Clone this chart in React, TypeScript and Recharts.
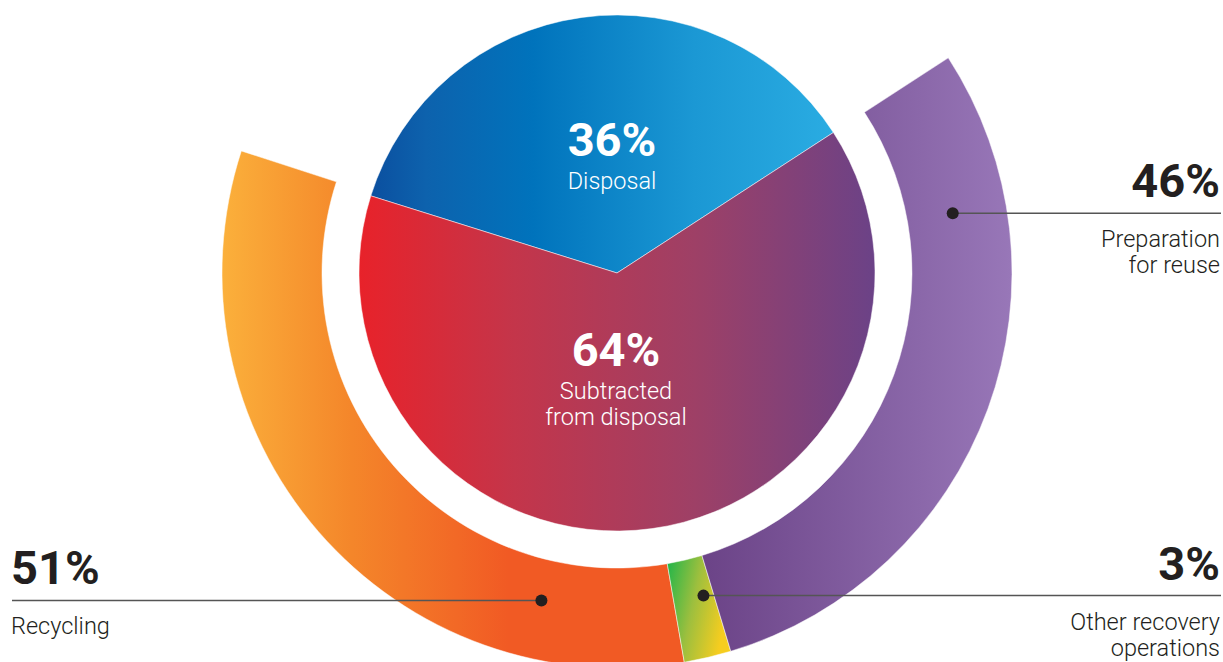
import React from 'react';
import { PieChart, Pie, Cell } from 'recharts';

// ---------- data ----------
const innerCategories = ['Disposal', 'Subtracted from disposal'];
const innerValues = [36, 64];
const innerLabelLines = [['Disposal'], ['Subtracted', 'from disposal']];

const outerCategories = ['Recycling', 'Other recovery operations', 'Preparation for reuse'];
const outerValues = [51, 3, 46];
const outerLabelLines = [['Recycling'], ['Other recovery', 'operations'], ['Preparation', 'for reuse']];

const innerData = innerCategories.map((name, i) => ({ name, value: innerValues[i] }));
const outerData = outerCategories.map((name, i) => ({ name, value: outerValues[i] }));

// ---------- layout / style ----------
const W = 1223;
const H = 662;
const CX = 617;
const CY = 273;
const FONT = 'Roboto, "Noto Sans", sans-serif';
const DARK = '#231f20';
const NAME_SIZE = 23.5;
const LINE_GAP = 26;

const innerFills = ['url(#gBlue)', 'url(#gRed)'];
const outerFills = ['url(#gOrange)', 'url(#gGreen)', 'url(#gPurple)'];

// where each inner label block sits, relative to the pie centre
const innerLabelPos = [
  { dx: -5, pctY: -117, nameY: -84 },
  { dx: -1, pctY: 93, nameY: 126 },
];

// anchor dot for each outer label (polar, degrees CCW from 3 o'clock)
const outerAnchors = [
  { angle: 257, r: 336, side: 'left' },
  { angle: 285, r: 334, side: 'right' },
  { angle: 10.1, r: 341, side: 'right' },
];

const renderInnerLabel = (props: any) => {
  const cx = props.cx ?? CX;
  const cy = props.cy ?? CY;
  const i = props.index;
  const p = innerLabelPos[i];
  const x = cx + p.dx;
  return (
    <g key={`il-${i}`}>
      <text x={x} y={cy + p.pctY} textAnchor="middle" fill="#fff" fontFamily={FONT} fontWeight={700} fontSize={47}>
        {`${innerValues[i]}%`}
      </text>
      {innerLabelLines[i].map((ln, k) => (
        <text key={k} x={x} y={cy + p.nameY + k * LINE_GAP} textAnchor="middle" fill="#fff" fontFamily={FONT} fontWeight={300} fontSize={NAME_SIZE}>
          {ln}
        </text>
      ))}
    </g>
  );
};

const renderOuterLabel = (props: any) => {
  const cx = props.cx ?? CX;
  const cy = props.cy ?? CY;
  const i = props.index;
  const a = outerAnchors[i];
  const rad = (Math.PI / 180) * a.angle;
  const x = cx + a.r * Math.cos(rad);
  const y = cy - a.r * Math.sin(rad);
  const left = a.side === 'left';
  const xEdge = left ? 12 : 1221;
  const tx = left ? 11 : 1220;
  const anchor = left ? 'start' : 'end';
  return (
    <g key={`ol-${i}`}>
      <line x1={xEdge} y1={y} x2={x} y2={y} stroke="#555" strokeWidth={1.5} />
      <circle cx={x} cy={y} r={6} fill={DARK} />
      <text x={tx} y={y - 16} textAnchor={anchor} fill={DARK} fontFamily={FONT} fontWeight={700} fontSize={47}>
        {`${outerValues[i]}%`}
      </text>
      {outerLabelLines[i].map((ln, k) => (
        <text key={k} x={tx} y={y + 34 + k * LINE_GAP} textAnchor={anchor} fill={DARK} fontFamily={FONT} fontWeight={300} fontSize={NAME_SIZE}>
          {ln}
        </text>
      ))}
    </g>
  );
};

export default function App() {
  return (
    <div style={{ position: 'absolute', left: 0, top: 0, width: W, height: H, background: '#fff' }}>
      <PieChart width={W} height={H} margin={{ top: 0, right: 0, bottom: 0, left: 0 }}>
        <defs>
          <linearGradient id="gBlue" x1="0" y1="0" x2="1" y2="0">
            <stop offset="0%" stopColor="#0b4f9f" />
            <stop offset="12%" stopColor="#0d62ad" />
            <stop offset="35%" stopColor="#0073bc" />
            <stop offset="70%" stopColor="#1b98d4" />
            <stop offset="100%" stopColor="#2aace2" />
          </linearGradient>
          <linearGradient id="gRed" x1="0" y1="0" x2="1" y2="0">
            <stop offset="0%" stopColor="#e8222a" />
            <stop offset="30%" stopColor="#c4354a" />
            <stop offset="65%" stopColor="#9e4066" />
            <stop offset="100%" stopColor="#6b4287" />
          </linearGradient>
          <linearGradient id="gOrange" x1="0" y1="0" x2="1" y2="0">
            <stop offset="0%" stopColor="#fbb03b" />
            <stop offset="28%" stopColor="#f4862a" />
            <stop offset="62%" stopColor="#f15a24" />
            <stop offset="100%" stopColor="#f15a24" />
          </linearGradient>
          <linearGradient id="gGreen" x1="0" y1="0" x2="1" y2="0.35">
            <stop offset="0%" stopColor="#1db54a" />
            <stop offset="50%" stopColor="#9dbf3e" />
            <stop offset="100%" stopColor="#f6cd1f" />
          </linearGradient>
          <linearGradient id="gPurple" x1="0" y1="0" x2="1" y2="0">
            <stop offset="0%" stopColor="#6b4387" />
            <stop offset="100%" stopColor="#9877b8" />
          </linearGradient>
        </defs>
        <Pie
          data={innerData}
          dataKey="value"
          nameKey="name"
          cx={CX}
          cy={CY}
          outerRadius={258}
          startAngle={33}
          endAngle={393}
          stroke="#ffffff"
          strokeWidth={0.5}
          label={renderInnerLabel}
          labelLine={false}
          isAnimationActive={false}
        >
          {innerData.map((d, i) => (
            <Cell key={d.name} fill={innerFills[i]} />
          ))}
        </Pie>
        <Pie
          data={outerData}
          dataKey="value"
          nameKey="name"
          cx={CX}
          cy={CY}
          innerRadius={295}
          outerRadius={395}
          startAngle={162}
          endAngle={393}
          stroke="#ffffff"
          strokeWidth={0.5}
          label={renderOuterLabel}
          labelLine={false}
          isAnimationActive={false}
        >
          {outerData.map((d, i) => (
            <Cell key={d.name} fill={outerFills[i]} />
          ))}
        </Pie>
      </PieChart>
    </div>
  );
}
